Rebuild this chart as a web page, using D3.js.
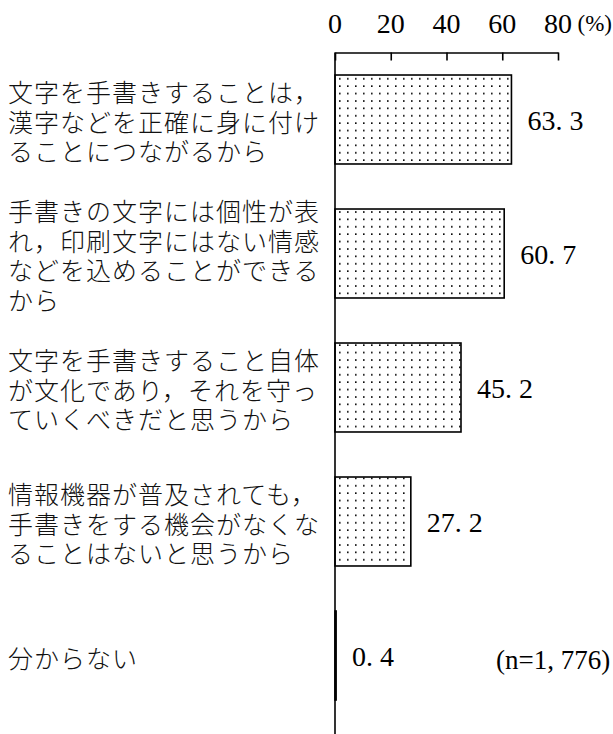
<!DOCTYPE html>
<html>
<head>
<meta charset="utf-8">
<script src="https://cdn.jsdelivr.net/npm/d3@7"></script>
<style>
body { margin: 0; background: #fff; }
</style>
</head>
<body>
<div id="chart"></div>
<script>
var width = 613,
height = 734;

var categories = [
  "文字を手書きすることは，\n漢字などを正確に身に付け\nることにつながるから",
  "手書きの文字には個性が表\nれ，印刷文字にはない情感\nなどを込めることができる\nから",
  "文字を手書きすること自体\nが文化であり，それを守っ\nていくべきだと思うから",
  "情報機器が普及されても，\n手書きをする機会がなくな\nることはないと思うから",
  "分からない"
];
var values = [63.3, 60.7, 45.2, 27.2, 0.4];
var ticks = [0, 20, 40, 60, 80];
var note = "(n=1, 776)";

var serif = "'Liberation Serif', 'DejaVu Serif', serif";
var jp = "'Noto Sans CJK JP', sans-serif";

var x = d3.scaleLinear().domain([0, 80]).range([335, 558]);
var y = d3.scaleBand().domain(categories).range([52.5, 722.5])
  .paddingInner(0.336).paddingOuter(0.168);

var svg = d3.select("#chart").append("svg")
  .attr("width", width)
  .attr("height", height);

// dotted fill
var pat = svg.append("defs").append("pattern")
  .attr("id", "dots")
  .attr("patternUnits", "userSpaceOnUse")
  .attr("width", 8)
  .attr("height", 7.4)
  .attr("x", 335)
  .attr("y", 75);
pat.append("rect").attr("width", 8).attr("height", 7.4).attr("fill", "white");
pat.append("rect").attr("x", 4).attr("y", 3).attr("width", 1.6).attr("height", 1.6).attr("fill", "black");

// top axis
var axis = svg.append("g")
  .attr("transform", "translate(0,52.5)")
  .call(d3.axisTop(x).tickValues(ticks).tickSize(-8).tickSizeOuter(0).tickFormat(""));
axis.select(".domain").attr("stroke", "#000").attr("stroke-width", 1.6);
axis.selectAll(".tick line").attr("stroke", "#000").attr("stroke-width", 1.6);

svg.selectAll("text.tick")
  .data(ticks)
  .enter().append("text")
  .attr("class", "tick")
  .attr("x", function(d) { return x(d); })
  .attr("y", 33)
  .attr("text-anchor", "middle")
  .style("font-family", serif)
  .style("font-size", "28px")
  .text(function(d) { return d; });

svg.append("text")
  .attr("x", 612)
  .attr("y", 31)
  .attr("text-anchor", "end")
  .style("font-family", serif)
  .style("font-size", "23px")
  .text("(%)");

// bars
svg.selectAll("rect.bar")
  .data(values)
  .enter().append("rect")
  .attr("class", "bar")
  .attr("x", x(0))
  .attr("y", function(d, i) { return y(categories[i]); })
  .attr("width", function(d) { return x(d) - x(0); })
  .attr("height", y.bandwidth())
  .attr("fill", "url(#dots)")
  .attr("stroke", "#000")
  .attr("stroke-width", 1.6);

// vertical axis
svg.append("line")
  .attr("x1", x(0)).attr("x2", x(0))
  .attr("y1", 52.5).attr("y2", height)
  .attr("stroke", "#000")
  .attr("stroke-width", 1.6);

// value labels
svg.selectAll("text.val")
  .data(values)
  .enter().append("text")
  .attr("class", "val")
  .attr("x", function(d) { return x(d) + 16; })
  .attr("y", function(d, i) { return y(categories[i]) + y.bandwidth() / 2 + 10; })
  .style("font-family", serif)
  .style("font-size", "28px")
  .text(function(d) { return d3.format(".1f")(d).replace(".", ". "); });

// category labels
var lineH = 29.5;
var labels = svg.selectAll("text.cat")
  .data(categories)
  .enter().append("text")
  .attr("class", "cat")
  .style("font-family", jp)
  .style("font-size", "25px")
  .style("font-weight", 300)
  .style("letter-spacing", "1px")
  .attr("fill", "#111");

labels.each(function(c) {
  var lines = c.split("\n");
  var cy = y(c) + y.bandwidth() / 2 + 3;
  var top = cy - (lines.length - 1) * lineH / 2;
  d3.select(this).selectAll("tspan")
    .data(lines)
    .enter().append("tspan")
    .attr("x", 8)
    .attr("y", function(d, i) { return top + i * lineH; })
    .attr("dy", "0.36em")
    .text(function(d) { return d; });
});

svg.append("text")
  .attr("x", 496)
  .attr("y", 669)
  .style("font-family", serif)
  .style("font-size", "27px")
  .text(note);
</script>
</body>
</html>
